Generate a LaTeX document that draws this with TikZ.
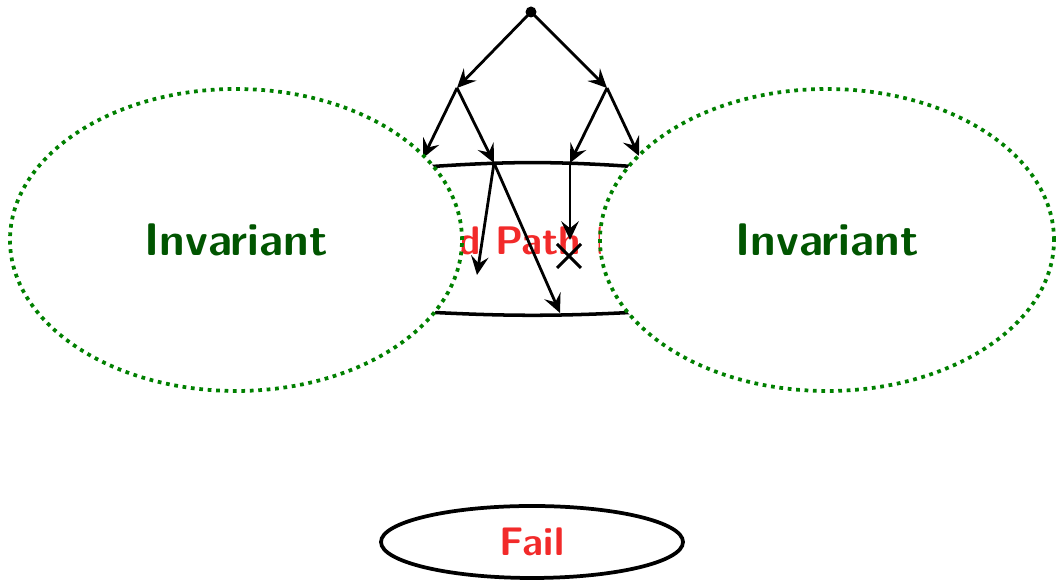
\documentclass[tikz,border=0pt]{standalone}
\usepackage{tikz}
\usetikzlibrary{
arrows.meta,
positioning,
calc
}
\definecolor{InvGreen}{HTML}{005500}
\definecolor{DotGreen}{HTML}{008000}
\definecolor{PathRed}{HTML}{F22A2A}

\tikzset{
    edge/.style={-{Stealth[length=8pt,width=7.5pt,inset=3pt]}, line width=1.2pt},
    horizon/.style={line width=1.5pt},
    invset/.style={draw=DotGreen, dotted, line width=1.6pt, fill=white},
    biglabel/.style={font=\sffamily\bfseries\fontsize{19.5}{22}\selectfont, text=InvGreen},
    redlabel/.style={font=\sffamily\bfseries\fontsize{17}{20}\selectfont, text=PathRed}
}

\begin{document}
\begin{tikzpicture}[
    x=0.015cm,
    y=0.015cm
]

\useasboundingbox (0,0) rectangle (1056,582);

% =========================
% TREE POINTS
% =========================
\coordinate (root) at (531,570);
\coordinate (lchild) at (457,494);
\coordinate (rchild) at (607,494);
\coordinate (llend) at (423,424);
\coordinate (lmid) at (494,419);
\coordinate (rmid) at (570,419);
\coordinate (rrend) at (639,426);
\coordinate (lshort) at (477,307);
\coordinate (llong) at (560,269);
\coordinate (rstop) at (570,342);
\coordinate (cross) at (569,326);

% =========================
% BAD PATH LABEL
% =========================
\node[redlabel]
(badpath) at (537,341)
{Bad Path End};

% =========================
% HORIZONS
% =========================
\coordinate (htopl) at (425,415);
\coordinate (htopr) at (640,415);
\coordinate (hbotl) at (425,270);
\coordinate (hbotr) at (640,270);

\draw[horizon] (htopl) to[bend left=4] (htopr);
\draw[horizon] (hbotl) to[bend right=3] (hbotr);

% =========================
% TREE EDGES
% =========================
\fill (root) circle (5.5);

\draw[edge] (root) -- (lchild);
\draw[edge] (root) -- (rchild);
\draw[edge] (lchild) -- (llend);
\draw[edge] (lchild) -- (lmid);
\draw[edge] (rchild) -- (rmid);
\draw[edge] (rchild) -- (rrend);

\draw[edge] (lmid) -- (lshort);
\draw[edge] (lmid) -- (llong);
\draw[edge] (rmid) -- (rstop);

% blocked path
\draw[line width=1.3pt]
($(cross)+(-12,-12)$) -- ($(cross)+(12,12)$)
($(cross)+(-12,12)$) -- ($(cross)+(12,-12)$);

% =========================
% INVARIANTS
% =========================
\draw[invset]
(236,342) ellipse [x radius=226, y radius=151];

\node[biglabel]
(invleft) at (236,342)
{Invariant};

\draw[invset]
(827,342) ellipse [x radius=227, y radius=151];

\node[biglabel]
(invright) at (827,342)
{Invariant};

% =========================
% FAIL STATE
% =========================
\draw[line width=1.6pt]
(532,40) ellipse [x radius=151, y radius=36];

\node[redlabel]
(fail) at (532,40)
{Fail};

\end{tikzpicture}
\end{document}
